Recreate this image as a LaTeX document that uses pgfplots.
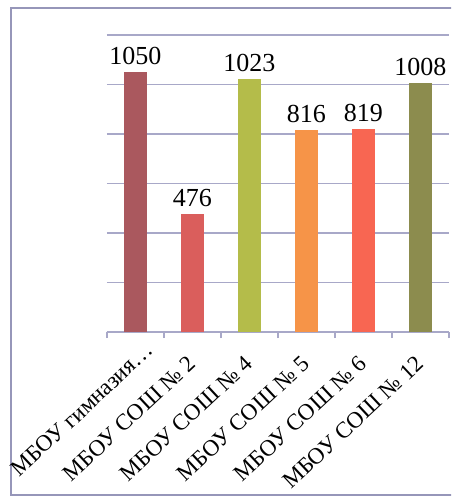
\documentclass[border=0pt]{standalone}
\usepackage{fontspec}
\setmainfont{Liberation Serif}
\usepackage{pgfplots}
\pgfplotsset{compat=1.18}
\definecolor{cA}{RGB}{170,88,94}
\definecolor{cB}{RGB}{218,94,92}
\definecolor{cC}{RGB}{180,188,74}
\definecolor{cD}{RGB}{246,148,72}
\definecolor{cE}{RGB}{248,102,82}
\definecolor{cF}{RGB}{140,140,78}
\definecolor{gridc}{RGB}{168,168,200}
\definecolor{framec}{RGB}{150,150,185}
\begin{document}
\begin{tikzpicture}
\clip (0,0) rectangle (225.5pt,252pt);
\fill[white] (0,0) rectangle (225.5pt,252pt);
\draw[framec, line width=0.6pt] (5.5pt,4.5pt) rectangle (240pt,248pt);
\begin{axis}[
  at={(53.5pt,86pt)}, anchor=south west,
  scale only axis, width=171pt, height=148.5pt,
  xmin=-0.5, xmax=5.5, ymin=0, ymax=1200,
  axis x line*=bottom, axis y line*=left,
  axis line style={gridc, line width=0.6pt, -},
  y axis line style={draw=none},
  ybar, bar width=11.5pt, bar shift=0pt,
  xtick={0,1,2,3,4,5},
  xticklabels={МБОУ гимназия…\kern-10pt, МБОУ СОШ № 2, МБОУ СОШ № 4, МБОУ СОШ № 5, МБОУ СОШ № 6, МБОУ СОШ № 12},
  major x tick style={draw=none},
  major y tick style={draw=none},
  minor xtick={-0.5,0.5,1.5,2.5,3.5,4.5,5.5},
  minor tick length=3pt,
  tick align=outside,
  minor x tick style={gridc, line width=0.6pt},
  xticklabel style={rotate=43, anchor=north east, font=\fontsize{11.5}{13}\selectfont, inner sep=1pt, yshift=-1.8pt, xshift=-5.7pt},
  ytick={0,200,...,1200},
  ymajorgrids, major grid style={gridc, line width=0.6pt},
  yticklabels={},
  nodes near coords,
  /pgf/number format/assume math mode=true,
  /pgf/number format/1000 sep={},
  every node near coord/.append style={font=\fontsize{13}{15}\selectfont, black},
  clip=false,
]
\addplot[fill=cA, draw=none] coordinates {(0,1050)};
\addplot[fill=cB, draw=none] coordinates {(1,476)};
\addplot[fill=cC, draw=none] coordinates {(2,1023)};
\addplot[fill=cD, draw=none] coordinates {(3,816)};
\addplot[fill=cE, draw=none] coordinates {(4,819)};
\addplot[fill=cF, draw=none] coordinates {(5,1008)};
\end{axis}
\end{tikzpicture}
\end{document}
